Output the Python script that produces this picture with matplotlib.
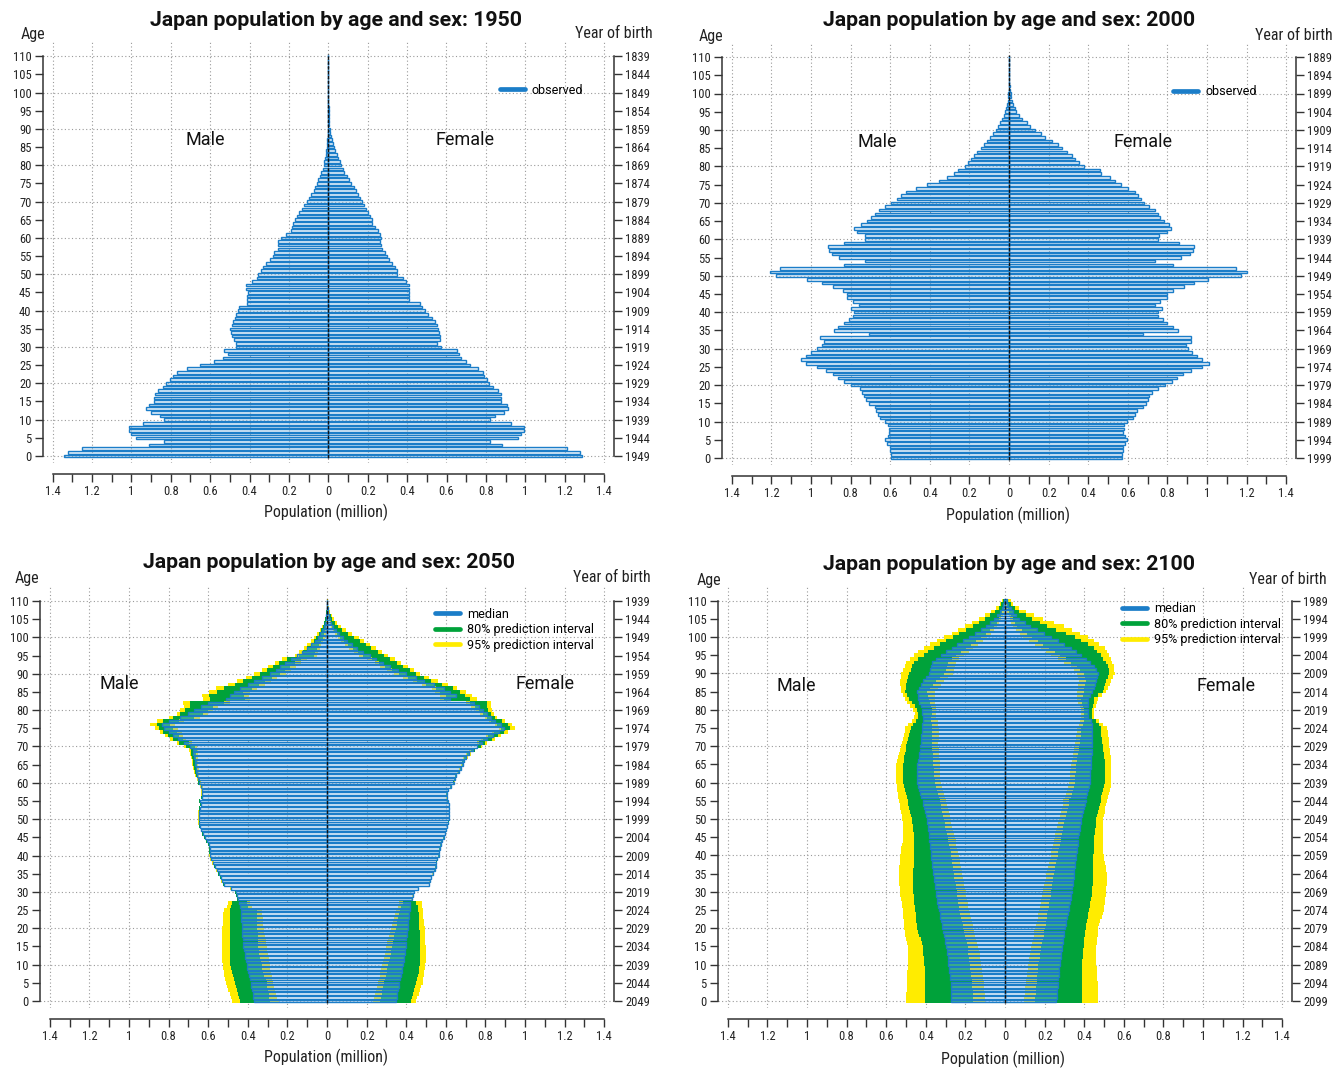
import matplotlib
matplotlib.use('Agg')
import matplotlib.pyplot as plt
import numpy as np
from matplotlib.lines import Line2D
from matplotlib import font_manager
from matplotlib.font_manager import FontProperties

plt.rcParams['font.family'] = ['Roboto', 'DejaVu Sans']


def _find_narrow():
    prefs = ['Roboto Condensed', 'Liberation Sans Narrow', 'Open Sans Condensed', 'DejaVu Sans Condensed']
    fl = font_manager.fontManager.ttflist
    for p in prefs:
        for f in fl:
            if f.name == p and f.style == 'normal' and f.weight in (400, 'normal', 'regular'):
                return f.fname
    for f in fl:
        if f.style == 'normal' and f.weight in (400, 'normal', 'regular') and \
                str(f.stretch) in ('condensed', 'semi-condensed', '75', '87.5'):
            if 'Serif' not in f.name and 'Mono' not in f.name:
                return f.fname
    for f in fl:
        if ('Condensed' in f.fname or 'Narrow' in f.fname) and 'Serif' not in f.fname \
                and 'Mono' not in f.fname and 'Bold' not in f.fname and 'Oblique' not in f.fname \
                and 'Italic' not in f.fname:
            return f.fname
    return None


_NF = _find_narrow()


def nfp(size):
    if _NF:
        return FontProperties(fname=_NF, size=size)
    return FontProperties(family='Roboto', size=size * 0.95)


ages = list(range(111))

# ---------------- observed 1950 ----------------
male_1950 = [1.342,1.32,1.25,0.91,0.835,0.978,1.0,1.013,1.013,0.94,
0.833,0.855,0.90,0.926,0.91,0.883,0.883,0.879,0.866,0.84,
0.822,0.803,0.788,0.766,0.716,0.652,0.58,0.537,0.509,0.528,
0.47,0.47,0.48,0.491,0.494,0.498,0.491,0.483,0.476,0.47,
0.459,0.455,0.411,0.411,0.411,0.409,0.416,0.416,0.385,0.361,
0.355,0.344,0.329,0.316,0.296,0.281,0.275,0.253,0.253,0.253,
0.238,0.216,0.19,0.184,0.177,0.169,0.158,0.147,0.134,0.121,
0.11,0.097,0.087,0.074,0.065,0.056,0.05,0.041,0.035,0.028,
0.024,0.02,0.017,0.014,0.011,0.009,0.007,0.005,0.004,0.003,
0.002,0.0015,0.001,0.0008,0.0005,0.0004,0.0003,0.0002,0.0001,0.0001,
0.0001,0,0,0,0,0,0,0,0,0,0]
female_1950 = [1.29,1.279,1.21,0.881,0.82,0.961,0.98,0.994,0.994,0.926,
0.822,0.848,0.892,0.911,0.907,0.879,0.879,0.879,0.861,0.838,
0.816,0.805,0.79,0.784,0.758,0.719,0.697,0.675,0.665,0.654,
0.574,0.554,0.567,0.567,0.563,0.556,0.55,0.543,0.524,0.504,
0.491,0.478,0.463,0.409,0.409,0.409,0.411,0.409,0.394,0.377,
0.351,0.351,0.34,0.325,0.307,0.297,0.286,0.275,0.27,0.264,
0.266,0.262,0.251,0.238,0.221,0.221,0.214,0.203,0.193,0.182,
0.171,0.16,0.149,0.139,0.128,0.117,0.106,0.095,0.082,0.074,
0.065,0.057,0.049,0.042,0.035,0.029,0.023,0.018,0.014,0.011,
0.008,0.006,0.005,0.004,0.003,0.002,0.0015,0.001,0.0008,0.0005,
0.0003,0.0002,0.0001,0.0001,0,0,0,0,0,0,0]

# ---------------- observed 2000 ----------------
male_2000 = [0.597,0.597,0.6,0.603,0.614,0.625,0.61,0.608,0.608,0.61,
0.625,0.653,0.66,0.672,0.675,0.707,0.724,0.733,0.742,0.755,
0.8,0.832,0.863,0.891,0.925,0.969,1.027,1.053,1.025,0.999,
0.971,0.945,0.934,0.956,0.707,0.884,0.863,0.832,0.809,0.787,
0.783,0.798,0.757,0.787,0.819,0.819,0.837,0.891,0.945,1.02,
1.178,1.206,1.159,0.835,0.729,0.858,0.895,0.908,0.912,0.835,
0.729,0.729,0.768,0.783,0.75,0.716,0.696,0.677,0.655,0.625,
0.597,0.566,0.545,0.519,0.471,0.415,0.355,0.311,0.277,0.259,
0.221,0.205,0.192,0.177,0.16,0.141,0.125,0.11,0.095,0.08,
0.065,0.054,0.043,0.035,0.026,0.019,0.014,0.01,0.007,0.005,
0.003,0.002,0.001,0.001,0.0005,0.0003,0.0002,0.0001,0,0,0]
female_2000 = [0.569,0.573,0.575,0.575,0.586,0.595,0.584,0.577,0.579,0.582,
0.597,0.625,0.636,0.644,0.675,0.692,0.7,0.709,0.722,0.755,
0.789,0.822,0.85,0.88,0.921,0.977,1.008,0.975,0.947,0.925,
0.904,0.893,0.919,0.921,0.679,0.852,0.828,0.8,0.778,0.755,
0.755,0.774,0.737,0.765,0.796,0.8,0.828,0.882,0.934,1.005,
1.17,1.2,1.146,0.828,0.737,0.869,0.915,0.93,0.934,0.861,
0.752,0.759,0.796,0.817,0.806,0.781,0.763,0.75,0.735,0.709,
0.683,0.666,0.651,0.634,0.603,0.566,0.536,0.51,0.467,0.461,
0.381,0.352,0.335,0.32,0.294,0.27,0.246,0.216,0.184,0.16,
0.13,0.106,0.089,0.067,0.05,0.037,0.028,0.02,0.014,0.01,
0.012,0.005,0.003,0.002,0.001,0.0005,0.0003,0.0002,0.0001,0,0]

# ---------------- projection 2050 (male) ----------------
male_2050_med = [0.368,0.372,0.376,0.38,0.383,0.386,0.39,0.394,0.398,0.402,
0.406,0.409,0.412,0.416,0.419,0.422,0.424,0.426,0.428,0.429,
0.43,0.431,0.432,0.433,0.434,0.436,0.438,0.442,0.452,0.456,
0.462,0.485,0.522,0.53,0.537,0.546,0.556,0.567,0.576,0.585,
0.591,0.593,0.593,0.597,0.608,0.617,0.628,0.634,0.643,0.645,
0.645,0.645,0.645,0.643,0.638,0.643,0.632,0.63,0.63,0.634,
0.645,0.649,0.656,0.66,0.664,0.667,0.669,0.672,0.675,0.678,
0.69,0.72,0.755,0.78,0.80,0.825,0.835,0.80,0.74,0.70,
0.67,0.635,0.60,0.51,0.49,0.47,0.44,0.40,0.37,0.33,
0.29,0.26,0.235,0.21,0.18,0.15,0.125,0.10,0.08,0.062,
0.046,0.034,0.024,0.016,0.011,0.007,0.004,0.0025,0.0015,0.001,0.0005]
male_2050_hi95 = [0.478,0.485,0.492,0.498,0.504,0.509,0.514,0.518,0.522,0.525,
0.527,0.528,0.529,0.53,0.53,0.53,0.53,0.53,0.529,0.528,
0.528,0.527,0.526,0.525,0.524,0.522,0.507,0.498,0.456,0.46,
0.466,0.489,0.526,0.534,0.541,0.55,0.56,0.571,0.58,0.589,
0.595,0.597,0.597,0.601,0.612,0.621,0.632,0.638,0.647,0.649,
0.649,0.649,0.649,0.647,0.642,0.647,0.636,0.634,0.635,0.64,
0.652,0.657,0.665,0.67,0.676,0.68,0.684,0.688,0.692,0.697,
0.72,0.76,0.793,0.82,0.843,0.87,0.894,0.86,0.80,0.759,
0.74,0.722,0.725,0.625,0.63,0.595,0.56,0.5,0.455,0.41,
0.369,0.33,0.3,0.265,0.225,0.164,0.14,0.118,0.1,0.083,
0.067,0.05,0.036,0.025,0.017,0.011,0.007,0.004,0.0025,0.0015,0.001]
male_2050_hi80 = [0.438,0.444,0.45,0.456,0.461,0.466,0.47,0.475,0.48,0.485,
0.49,0.49,0.49,0.49,0.49,0.49,0.49,0.49,0.49,0.49,
0.49,0.49,0.49,0.49,0.49,0.49,0.486,0.48,0.454,0.458,
0.464,0.487,0.524,0.532,0.539,0.548,0.558,0.569,0.578,0.587,
0.593,0.595,0.595,0.599,0.61,0.619,0.63,0.636,0.645,0.647,
0.647,0.647,0.647,0.645,0.64,0.645,0.634,0.632,0.632,0.637,
0.649,0.653,0.661,0.666,0.671,0.675,0.678,0.682,0.685,0.688,
0.71,0.745,0.777,0.805,0.828,0.85,0.86,0.83,0.78,0.742,
0.715,0.692,0.69,0.591,0.595,0.557,0.52,0.465,0.423,0.38,
0.336,0.305,0.275,0.24,0.2,0.142,0.12,0.1,0.082,0.068,
0.055,0.042,0.03,0.021,0.014,0.009,0.006,0.0035,0.002,0.0012,0.0007]
male_2050_lo80 = [0.288,0.292,0.295,0.298,0.301,0.304,0.31,0.316,0.321,0.326,
0.33,0.334,0.338,0.341,0.344,0.347,0.348,0.349,0.35,0.351,
0.352,0.353,0.354,0.355,0.355,0.356,0.397,0.405,0.45,0.454,
0.46,0.483,0.52,0.528,0.535,0.544,0.554,0.565,0.574,0.583,
0.589,0.591,0.591,0.595,0.606,0.615,0.626,0.632,0.641,0.643,
0.643,0.643,0.643,0.641,0.636,0.641,0.63,0.628,0.627,0.63,
0.64,0.643,0.649,0.652,0.655,0.657,0.658,0.66,0.66,0.658,
0.665,0.695,0.727,0.745,0.759,0.78,0.793,0.75,0.67,0.626,
0.60,0.576,0.52,0.414,0.42,0.423,0.38,0.345,0.315,0.28,
0.239,0.21,0.185,0.16,0.13,0.067,0.06,0.05,0.04,0.03,
0.02,0.015,0.01,0.007,0.005,0.003,0.002,0.0012,0.0007,0.0004,0.0002]
male_2050_lo95 = [0.244,0.25,0.256,0.262,0.267,0.272,0.276,0.28,0.284,0.286,
0.288,0.292,0.295,0.298,0.301,0.304,0.307,0.31,0.313,0.316,
0.318,0.321,0.323,0.325,0.328,0.33,0.38,0.389,0.448,0.452,
0.458,0.481,0.518,0.526,0.533,0.542,0.552,0.563,0.572,0.581,
0.587,0.589,0.589,0.593,0.604,0.613,0.624,0.63,0.639,0.641,
0.641,0.641,0.641,0.639,0.634,0.639,0.628,0.626,0.625,0.627,
0.636,0.639,0.644,0.646,0.648,0.65,0.651,0.652,0.652,0.651,
0.655,0.68,0.712,0.725,0.734,0.755,0.768,0.72,0.64,0.60,
0.575,0.55,0.49,0.389,0.395,0.39,0.355,0.315,0.285,0.25,
0.207,0.18,0.155,0.13,0.1,0.05,0.045,0.036,0.028,0.02,
0.01,0.007,0.005,0.003,0.002,0.0015,0.001,0.0006,0.0004,0.0002,0.0001]

# ---------------- projection 2050 (female) ----------------
female_2050_med = [0.349,0.352,0.355,0.358,0.362,0.365,0.369,0.373,0.377,0.381,
0.385,0.388,0.391,0.393,0.395,0.397,0.399,0.401,0.403,0.405,
0.407,0.409,0.411,0.413,0.415,0.417,0.419,0.421,0.429,0.434,
0.44,0.462,0.516,0.52,0.526,0.535,0.544,0.548,0.552,0.558,
0.565,0.567,0.569,0.575,0.58,0.59,0.598,0.603,0.608,0.612,
0.617,0.617,0.617,0.617,0.617,0.61,0.606,0.605,0.613,0.625,
0.641,0.645,0.651,0.665,0.675,0.685,0.69,0.70,0.715,0.735,
0.76,0.785,0.81,0.84,0.87,0.895,0.88,0.85,0.83,0.81,
0.79,0.77,0.74,0.62,0.65,0.62,0.59,0.54,0.49,0.45,
0.40,0.36,0.32,0.285,0.25,0.215,0.18,0.15,0.125,0.10,
0.08,0.06,0.045,0.032,0.022,0.015,0.01,0.006,0.004,0.002,0.001]
female_2050_hi95 = [0.45,0.457,0.464,0.47,0.477,0.483,0.486,0.489,0.492,0.495,
0.497,0.498,0.498,0.498,0.498,0.498,0.497,0.496,0.495,0.494,
0.493,0.491,0.489,0.487,0.485,0.483,0.481,0.479,0.432,0.437,
0.443,0.465,0.519,0.523,0.529,0.538,0.547,0.551,0.555,0.561,
0.568,0.57,0.572,0.578,0.583,0.593,0.601,0.606,0.611,0.615,
0.62,0.62,0.62,0.62,0.62,0.613,0.609,0.608,0.616,0.628,
0.645,0.649,0.656,0.67,0.681,0.692,0.698,0.71,0.727,0.75,
0.785,0.81,0.85,0.88,0.915,0.947,0.936,0.9,0.861,0.845,
0.835,0.83,0.828,0.76,0.731,0.7,0.656,0.61,0.559,0.515,
0.472,0.44,0.408,0.375,0.342,0.31,0.28,0.246,0.215,0.185,
0.16,0.125,0.095,0.07,0.05,0.035,0.024,0.015,0.01,0.006,0.003]
female_2050_hi80 = [0.423,0.429,0.434,0.44,0.445,0.451,0.455,0.459,0.463,0.466,
0.469,0.47,0.471,0.471,0.472,0.472,0.471,0.47,0.469,0.468,
0.467,0.466,0.465,0.464,0.463,0.462,0.458,0.451,0.431,0.436,
0.442,0.464,0.518,0.522,0.528,0.537,0.546,0.55,0.554,0.56,
0.567,0.569,0.571,0.577,0.582,0.592,0.6,0.605,0.61,0.614,
0.619,0.619,0.619,0.619,0.619,0.612,0.608,0.607,0.615,0.627,
0.643,0.647,0.654,0.668,0.679,0.69,0.696,0.707,0.723,0.745,
0.78,0.8,0.835,0.865,0.895,0.925,0.915,0.885,0.85,0.83,
0.815,0.81,0.807,0.72,0.699,0.67,0.634,0.58,0.526,0.49,
0.451,0.42,0.386,0.355,0.32,0.289,0.258,0.224,0.195,0.165,
0.138,0.105,0.078,0.056,0.04,0.027,0.018,0.011,0.007,0.004,0.002]
female_2050_lo80 = [0.267,0.271,0.276,0.28,0.285,0.289,0.293,0.297,0.301,0.305,
0.309,0.313,0.317,0.321,0.325,0.328,0.332,0.336,0.34,0.344,
0.348,0.352,0.356,0.36,0.364,0.368,0.375,0.386,0.427,0.432,
0.438,0.46,0.514,0.518,0.524,0.533,0.542,0.546,0.55,0.556,
0.563,0.565,0.567,0.573,0.578,0.588,0.596,0.601,0.606,0.61,
0.615,0.615,0.615,0.615,0.615,0.608,0.604,0.603,0.611,0.623,
0.638,0.642,0.648,0.661,0.67,0.68,0.684,0.693,0.707,0.725,
0.765,0.77,0.79,0.815,0.845,0.88,0.86,0.83,0.81,0.79,
0.77,0.745,0.72,0.591,0.6,0.57,0.548,0.5,0.455,0.41,
0.365,0.33,0.295,0.262,0.228,0.181,0.155,0.13,0.108,0.085,
0.066,0.05,0.037,0.026,0.018,0.012,0.008,0.005,0.003,0.0015,0.001]
female_2050_lo95 = [0.23,0.235,0.241,0.246,0.252,0.257,0.261,0.266,0.27,0.275,
0.279,0.283,0.288,0.292,0.296,0.3,0.305,0.31,0.315,0.32,
0.325,0.33,0.335,0.34,0.345,0.35,0.358,0.365,0.426,0.431,
0.437,0.459,0.513,0.517,0.523,0.532,0.541,0.545,0.549,0.555,
0.562,0.564,0.566,0.572,0.577,0.587,0.595,0.6,0.605,0.609,
0.614,0.614,0.614,0.614,0.614,0.607,0.603,0.602,0.61,0.622,
0.637,0.64,0.646,0.658,0.667,0.676,0.68,0.688,0.701,0.718,
0.76,0.76,0.78,0.805,0.835,0.87,0.85,0.82,0.80,0.775,
0.755,0.725,0.70,0.57,0.57,0.545,0.53,0.48,0.435,0.385,
0.34,0.305,0.27,0.24,0.205,0.16,0.135,0.112,0.093,0.072,
0.055,0.041,0.03,0.021,0.014,0.009,0.006,0.004,0.002,0.001,0.0005]

# ---------------- projection 2100 (male) ----------------
male_2100_med = [0.271,0.272,0.273,0.273,0.274,0.275,0.277,0.279,0.281,0.283,
0.286,0.288,0.29,0.292,0.295,0.297,0.301,0.304,0.308,0.312,
0.316,0.32,0.323,0.327,0.33,0.334,0.337,0.341,0.344,0.348,
0.351,0.354,0.356,0.359,0.361,0.364,0.366,0.368,0.37,0.372,
0.373,0.375,0.377,0.379,0.382,0.384,0.386,0.388,0.39,0.392,
0.394,0.398,0.403,0.407,0.412,0.416,0.422,0.427,0.432,0.437,
0.442,0.442,0.442,0.442,0.442,0.442,0.439,0.436,0.433,0.43,
0.427,0.426,0.424,0.423,0.421,0.42,0.418,0.416,0.416,0.418,
0.42,0.426,0.432,0.438,0.44,0.442,0.434,0.425,0.416,0.40,
0.384,0.38,0.375,0.37,0.35,0.325,0.30,0.27,0.24,0.21,
0.18,0.15,0.12,0.095,0.075,0.055,0.04,0.027,0.016,0.009,0.004]
male_2100_hi95 = [0.5,0.499,0.498,0.497,0.497,0.496,0.495,0.494,0.493,0.492,
0.492,0.491,0.491,0.49,0.49,0.49,0.494,0.499,0.503,0.507,
0.511,0.512,0.512,0.513,0.513,0.514,0.518,0.521,0.524,0.528,
0.531,0.532,0.533,0.534,0.534,0.535,0.534,0.533,0.531,0.53,
0.529,0.526,0.523,0.52,0.517,0.514,0.515,0.516,0.516,0.517,
0.518,0.521,0.525,0.528,0.532,0.535,0.538,0.541,0.544,0.547,
0.55,0.55,0.55,0.55,0.55,0.55,0.545,0.539,0.534,0.529,
0.524,0.52,0.516,0.511,0.507,0.503,0.49,0.47,0.459,0.457,
0.464,0.478,0.493,0.507,0.515,0.524,0.526,0.528,0.529,0.527,
0.524,0.516,0.507,0.50,0.48,0.46,0.44,0.41,0.38,0.345,
0.31,0.27,0.235,0.20,0.165,0.13,0.10,0.07,0.045,0.027,0.013]
male_2100_hi80 = [0.403,0.403,0.403,0.403,0.403,0.403,0.404,0.405,0.405,0.406,
0.407,0.409,0.411,0.412,0.414,0.416,0.421,0.426,0.432,0.437,
0.442,0.445,0.447,0.45,0.452,0.455,0.457,0.459,0.46,0.462,
0.464,0.464,0.464,0.464,0.464,0.464,0.463,0.462,0.461,0.46,
0.459,0.459,0.459,0.459,0.459,0.459,0.461,0.463,0.466,0.468,
0.47,0.474,0.479,0.483,0.488,0.492,0.496,0.501,0.505,0.51,
0.514,0.514,0.514,0.514,0.514,0.514,0.511,0.508,0.504,0.501,
0.498,0.494,0.49,0.485,0.481,0.477,0.463,0.449,0.438,0.44,
0.442,0.456,0.471,0.485,0.494,0.503,0.5,0.498,0.496,0.49,
0.485,0.475,0.468,0.46,0.44,0.41,0.39,0.36,0.33,0.30,
0.265,0.23,0.195,0.16,0.13,0.10,0.075,0.05,0.032,0.018,0.008]
male_2100_lo80 = [0.16,0.161,0.163,0.164,0.166,0.167,0.169,0.171,0.174,0.176,
0.178,0.18,0.182,0.185,0.187,0.189,0.193,0.197,0.202,0.206,
0.21,0.214,0.218,0.222,0.226,0.23,0.233,0.235,0.238,0.24,
0.243,0.246,0.25,0.253,0.257,0.26,0.262,0.264,0.267,0.269,
0.271,0.275,0.279,0.282,0.286,0.29,0.294,0.297,0.301,0.304,
0.308,0.312,0.316,0.321,0.325,0.329,0.334,0.339,0.345,0.35,
0.355,0.356,0.358,0.359,0.361,0.362,0.363,0.365,0.366,0.367,
0.368,0.368,0.368,0.368,0.368,0.368,0.37,0.372,0.373,0.37,
0.368,0.373,0.379,0.384,0.389,0.394,0.38,0.365,0.351,0.33,
0.308,0.30,0.295,0.29,0.27,0.245,0.22,0.195,0.17,0.145,
0.12,0.095,0.075,0.055,0.04,0.028,0.02,0.013,0.007,0.004,0.002]
male_2100_lo95 = [0.102,0.103,0.103,0.104,0.105,0.106,0.109,0.111,0.114,0.116,
0.119,0.122,0.125,0.128,0.131,0.134,0.139,0.144,0.15,0.155,
0.16,0.164,0.169,0.173,0.178,0.182,0.185,0.189,0.192,0.196,
0.199,0.202,0.205,0.209,0.212,0.215,0.218,0.222,0.225,0.229,
0.232,0.236,0.241,0.245,0.25,0.254,0.258,0.262,0.267,0.271,
0.275,0.279,0.284,0.288,0.293,0.297,0.303,0.308,0.314,0.319,
0.325,0.326,0.327,0.327,0.328,0.329,0.33,0.332,0.333,0.335,
0.336,0.336,0.335,0.335,0.334,0.334,0.337,0.34,0.351,0.349,
0.347,0.35,0.352,0.355,0.355,0.355,0.339,0.324,0.308,0.286,
0.264,0.26,0.255,0.25,0.23,0.205,0.18,0.16,0.135,0.11,
0.09,0.07,0.055,0.04,0.028,0.019,0.012,0.007,0.004,0.002,0.001]

# ---------------- projection 2100 (female) ----------------
female_2100_med = [0.26,0.261,0.263,0.264,0.266,0.267,0.269,0.271,0.273,0.275,
0.277,0.279,0.281,0.284,0.286,0.288,0.291,0.294,0.297,0.3,
0.303,0.307,0.31,0.314,0.317,0.321,0.324,0.328,0.331,0.335,
0.338,0.34,0.342,0.345,0.347,0.349,0.351,0.353,0.356,0.358,
0.36,0.362,0.364,0.367,0.369,0.371,0.374,0.377,0.38,0.383,
0.386,0.39,0.394,0.399,0.403,0.407,0.411,0.416,0.42,0.425,
0.429,0.43,0.431,0.431,0.432,0.433,0.434,0.436,0.437,0.439,
0.44,0.44,0.44,0.44,0.44,0.44,0.438,0.436,0.418,0.418,
0.418,0.418,0.418,0.418,0.429,0.44,0.447,0.455,0.462,0.467,
0.472,0.462,0.451,0.429,0.408,0.386,0.359,0.332,0.299,0.267,
0.234,0.198,0.162,0.126,0.099,0.072,0.056,0.039,0.028,0.017,0.011]
female_2100_hi95 = [0.472,0.471,0.47,0.47,0.469,0.468,0.467,0.466,0.464,0.463,
0.462,0.462,0.462,0.462,0.462,0.462,0.464,0.466,0.468,0.47,
0.472,0.477,0.482,0.488,0.493,0.498,0.501,0.503,0.506,0.508,
0.511,0.512,0.513,0.514,0.515,0.516,0.512,0.509,0.505,0.502,
0.498,0.497,0.496,0.496,0.495,0.494,0.494,0.494,0.494,0.494,
0.494,0.498,0.503,0.507,0.512,0.516,0.52,0.524,0.529,0.533,
0.537,0.537,0.537,0.537,0.537,0.537,0.535,0.533,0.531,0.529,
0.527,0.525,0.523,0.52,0.518,0.516,0.497,0.477,0.451,0.451,
0.451,0.458,0.465,0.472,0.492,0.511,0.52,0.528,0.537,0.546,
0.555,0.552,0.548,0.541,0.534,0.527,0.516,0.505,0.476,0.447,
0.418,0.378,0.339,0.299,0.245,0.191,0.148,0.104,0.072,0.039,0.028]
female_2100_hi80 = [0.39,0.39,0.39,0.39,0.39,0.39,0.39,0.39,0.39,0.39,
0.39,0.391,0.393,0.394,0.396,0.397,0.399,0.401,0.403,0.405,
0.407,0.411,0.414,0.418,0.421,0.425,0.428,0.431,0.434,0.437,
0.44,0.441,0.442,0.444,0.445,0.446,0.446,0.446,0.446,0.446,
0.446,0.447,0.448,0.449,0.45,0.451,0.453,0.455,0.458,0.46,
0.462,0.466,0.47,0.475,0.479,0.483,0.487,0.492,0.496,0.501,
0.505,0.505,0.505,0.505,0.505,0.505,0.503,0.501,0.498,0.496,
0.494,0.492,0.49,0.487,0.485,0.483,0.473,0.462,0.44,0.44,
0.44,0.444,0.447,0.451,0.472,0.494,0.5,0.505,0.511,0.519,
0.527,0.524,0.52,0.508,0.495,0.483,0.467,0.451,0.418,0.386,
0.353,0.306,0.259,0.212,0.175,0.137,0.105,0.072,0.05,0.028,0.017]
female_2100_lo80 = [0.152,0.154,0.155,0.157,0.158,0.16,0.162,0.164,0.165,0.167,
0.169,0.172,0.175,0.178,0.181,0.184,0.188,0.191,0.195,0.198,
0.202,0.205,0.208,0.211,0.214,0.217,0.22,0.224,0.227,0.231,
0.234,0.237,0.239,0.242,0.244,0.247,0.251,0.255,0.259,0.263,
0.267,0.27,0.274,0.277,0.281,0.284,0.288,0.292,0.295,0.299,
0.303,0.307,0.312,0.316,0.321,0.325,0.331,0.336,0.342,0.347,
0.353,0.354,0.356,0.357,0.359,0.36,0.363,0.366,0.369,0.372,
0.375,0.377,0.379,0.382,0.384,0.386,0.392,0.397,0.397,0.397,
0.397,0.393,0.39,0.386,0.392,0.397,0.4,0.404,0.407,0.402,
0.397,0.381,0.364,0.335,0.306,0.277,0.25,0.223,0.194,0.166,
0.137,0.112,0.086,0.061,0.05,0.039,0.03,0.02,0.013,0.008,0.005]
female_2100_lo95 = [0.095,0.097,0.099,0.1,0.102,0.104,0.107,0.109,0.112,0.114,
0.117,0.12,0.123,0.126,0.129,0.132,0.136,0.14,0.144,0.148,
0.152,0.156,0.16,0.165,0.169,0.173,0.177,0.18,0.184,0.187,
0.191,0.194,0.198,0.201,0.205,0.208,0.212,0.217,0.221,0.226,
0.23,0.234,0.238,0.243,0.247,0.251,0.255,0.26,0.264,0.269,
0.273,0.277,0.282,0.286,0.291,0.295,0.301,0.307,0.313,0.319,
0.325,0.326,0.328,0.329,0.331,0.332,0.336,0.341,0.345,0.349,
0.353,0.355,0.357,0.36,0.362,0.364,0.373,0.381,0.386,0.386,
0.386,0.379,0.371,0.364,0.364,0.364,0.368,0.371,0.375,0.37,
0.364,0.348,0.332,0.299,0.267,0.234,0.207,0.18,0.151,0.122,
0.093,0.075,0.057,0.039,0.032,0.025,0.018,0.012,0.007,0.004,0.002]

# ---------------- styling ----------------
W, H = 1341, 1068
BLUE = '#1b7dc8'
FILL = (0.72, 0.85, 0.95, 0.35)
GREEN = '#00a23a'
YELLOW = '#ffec00'
GRID = '#9a9a9a'
BAR_H = 0.7
BAR_LW = 1.0
TICK_FS = 9

fig = plt.figure(figsize=(W / 100, H / 100), dpi=100)


def make_axes(x0, sx, y0, sy):
    left = x0 - 1.45 * sx
    right = x0 + 1.45 * sx
    top = y0 - 114 * sy
    bottom = y0 + 2 * sy
    return fig.add_axes([left / W, 1 - bottom / H, (right - left) / W, (bottom - top) / H])


def setup(ax, year, sy):
    ax.set_xlim(-1.45, 1.45)
    ax.set_ylim(-2, 114)
    for v in np.arange(-1.4, 1.41, 0.2):
        ax.axvline(v, color=GRID, lw=0.8, ls=(0, (1, 2.2)), zorder=0.5)
    for a in range(0, 111, 10):
        ax.axhline(a, color=GRID, lw=0.8, ls=(0, (1, 2.2)), zorder=0.5)
    ax.axvline(0, ymin=(1.5) / 116, ymax=(112.5) / 116, color='#111111', lw=1.0,
               ls=(0, (2.5, 1)), zorder=6)
    for s in ['top', 'right']:
        ax.spines[s].set_visible(False)
    ax.spines['left'].set_bounds(0, 110)
    ax.spines['bottom'].set_bounds(-1.4, 1.4)
    ax.spines['bottom'].set_position(('outward', 3 * sy * 0.72))
    for s in ['left', 'bottom']:
        ax.spines[s].set_linewidth(1.1)
        ax.spines[s].set_color('#333333')
    xt = np.round(np.arange(-1.4, 1.41, 0.1), 1)
    ax.set_xticks(xt)
    labs = []
    for v in xt:
        k = int(round(abs(v) * 10))
        if k % 2:
            labs.append('')
        elif k % 10 == 0:
            labs.append(str(k // 10))
        else:
            labs.append(('%.1f' % abs(v)))
    ax.set_xticklabels(labs, fontproperties=nfp(TICK_FS))
    ax.set_yticks(list(range(0, 111, 5)))
    ax.set_yticklabels([str(a) for a in range(0, 111, 5)], fontproperties=nfp(TICK_FS))
    ax.tick_params(axis='both', direction='out', length=6, width=1.0, color='#333333',
                   pad=2, labelcolor='#222222')
    tw = ax.twinx()
    tw.set_ylim(ax.get_ylim())
    for s in ['top', 'left', 'bottom']:
        tw.spines[s].set_visible(False)
    tw.spines['right'].set_bounds(0, 110)
    tw.spines['right'].set_linewidth(1.1)
    tw.spines['right'].set_color('#333333')
    tw.set_yticks(list(range(0, 111, 5)))
    tw.set_yticklabels([str(year - 1 - a) for a in range(0, 111, 5)], fontproperties=nfp(TICK_FS))
    tw.tick_params(axis='y', direction='out', length=6, width=1.0, color='#333333', pad=2,
                   labelcolor='#222222')


def draw_median(ax, male, female):
    ax.barh(ages, [-v for v in male], height=BAR_H, color=FILL, edgecolor=BLUE,
            linewidth=BAR_LW, zorder=4)
    ax.barh(ages, female, height=BAR_H, color=FILL, edgecolor=BLUE,
            linewidth=BAR_LW, zorder=4)


def draw_bands(ax, lo, hi, color, side, z):
    lo = np.array(lo)
    hi = np.array(hi)
    if side < 0:
        ax.barh(ages, -(hi - lo), left=-lo, height=1.0, color=color, linewidth=0, zorder=z)
    else:
        ax.barh(ages, hi - lo, left=lo, height=1.0, color=color, linewidth=0, zorder=z)


def texts(ax, year, xlab_px, title_px, age_px, yob_px, male_x, female_x, mf_age):
    fig.text(title_px[0] / W, 1 - title_px[1] / H, 'Japan population by age and sex: %d' % year,
             ha='center', va='center', fontsize=15.3, fontweight='bold', color='#111111')
    fig.text(age_px[0] / W, 1 - age_px[1] / H, 'Age', ha='center', va='center',
             fontproperties=nfp(11.5), color='#222222')
    fig.text(yob_px[0] / W, 1 - yob_px[1] / H, 'Year of birth', ha='center', va='center',
             fontproperties=nfp(11.5), color='#222222')
    fig.text(xlab_px[0] / W, 1 - xlab_px[1] / H, 'Population (million)', ha='center', va='center',
             fontproperties=nfp(11.5), color='#222222')
    ax.text(male_x, mf_age, 'Male', ha='center', va='center', fontsize=13, color='#111111', zorder=8)
    ax.text(female_x, mf_age, 'Female', ha='center', va='center', fontsize=13, color='#111111', zorder=8)


def legend(ax, entries, anchor):
    handles = [Line2D([], [], color=c, lw=3.4, solid_capstyle='round') for c, _ in entries]
    lg = ax.legend(handles, [t for _, t in entries], loc='upper left', bbox_to_anchor=anchor,
                   frameon=False, fontsize=9, handlelength=2.0, handletextpad=0.55,
                   borderpad=0, borderaxespad=0, labelspacing=0.2)
    lg.set_zorder(9)


# ---- panel 1: 1950
ax1 = make_axes(328.3, 197, 456, 3.635)
setup(ax1, 1950, 3.635)
draw_median(ax1, male_1950, female_1950)
texts(ax1, 1950, (326, 512), (336, 20), (33, 35), (614, 34), -0.626, 0.694, 86.9)
legend(ax1, [(BLUE, 'observed')], (0.80, 0.90))

# ---- panel 2: 2000
ax2 = make_axes(1009, 198, 458, 3.645)
setup(ax2, 2000, 3.645)
draw_median(ax2, male_2000, female_2000)
texts(ax2, 2000, (1008, 515), (1009, 21), (711, 37), (1294, 36), -0.667, 0.677, 86.7)
legend(ax2, [(BLUE, 'observed')], (0.786, 0.899))

# ---- panel 3: 2050
ax3 = make_axes(327, 198, 1001, 3.636)
setup(ax3, 2050, 3.636)
draw_bands(ax3, male_2050_lo95, male_2050_hi95, YELLOW, -1, 2)
draw_bands(ax3, male_2050_lo80, male_2050_hi80, GREEN, -1, 2.5)
draw_bands(ax3, female_2050_lo95, female_2050_hi95, YELLOW, 1, 2)
draw_bands(ax3, female_2050_lo80, female_2050_hi80, GREEN, 1, 2.5)
draw_median(ax3, male_2050_med, female_2050_med)
texts(ax3, 2050, (326, 1057), (329, 563), (27, 578), (612, 578), -1.05, 1.10, 87.2)
legend(ax3, [(BLUE, 'median'), (GREEN, '80% prediction interval'), (YELLOW, '95% prediction interval')],
       (0.688, 0.95))

# ---- panel 4: 2100
ax4 = make_axes(1005, 198, 1001, 3.64)
setup(ax4, 2100, 3.64)
draw_bands(ax4, male_2100_lo95, male_2100_hi95, YELLOW, -1, 2)
draw_bands(ax4, male_2100_lo80, male_2100_hi80, GREEN, -1, 2.5)
draw_bands(ax4, female_2100_lo95, female_2100_hi95, YELLOW, 1, 2)
draw_bands(ax4, female_2100_lo80, female_2100_hi80, GREEN, 1, 2.5)
draw_median(ax4, male_2100_med, female_2100_med)
texts(ax4, 2100, (1003, 1059), (1009, 565), (709, 580), (1288, 580), -1.056, 1.116, 86.6)
legend(ax4, [(BLUE, 'median'), (GREEN, '80% prediction interval'), (YELLOW, '95% prediction interval')],
       (0.704, 0.962))

fig.savefig('out.png', dpi=100, facecolor='white')
